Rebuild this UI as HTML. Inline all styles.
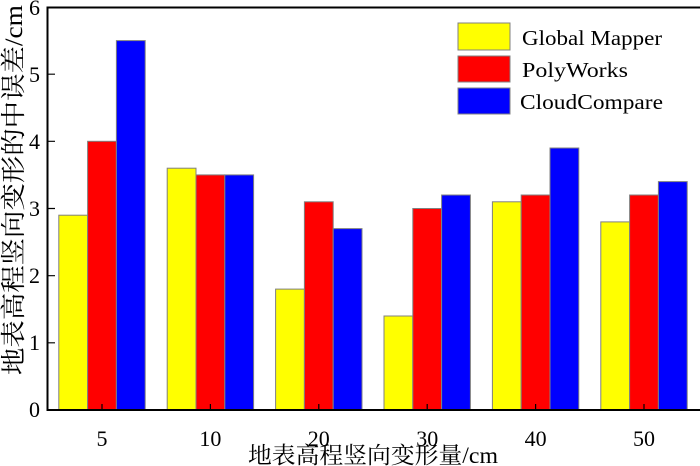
<!DOCTYPE html>
<html><head><meta charset="utf-8"><style>html,body{margin:0;padding:0;background:#fff}svg{display:block}</style></head>
<body>
<svg width="700" height="466" xmlns="http://www.w3.org/2000/svg" font-family="'Liberation Serif','Noto Serif CJK SC',serif">
<g stroke="#808080" stroke-width="1">
<rect x="58.8" y="215.2" width="28.8" height="194.8" fill="#ffff00"/>
<rect x="87.6" y="141.3" width="28.8" height="268.7" fill="#ff0000"/>
<rect x="116.4" y="40.6" width="28.8" height="369.4" fill="#0000ff"/>

<rect x="167.2" y="168.2" width="28.8" height="241.8" fill="#ffff00"/>
<rect x="196" y="174.9" width="28.8" height="235.1" fill="#ff0000"/>
<rect x="224.8" y="174.9" width="28.8" height="235.1" fill="#0000ff"/>

<rect x="275.6" y="289.1" width="28.8" height="120.9" fill="#ffff00"/>
<rect x="304.4" y="201.8" width="28.8" height="208.2" fill="#ff0000"/>
<rect x="333.2" y="228.6" width="28.8" height="181.4" fill="#0000ff"/>

<rect x="384" y="316" width="28.8" height="94" fill="#ffff00"/>
<rect x="412.8" y="208.5" width="28.8" height="201.5" fill="#ff0000"/>
<rect x="441.6" y="195" width="28.8" height="215" fill="#0000ff"/>

<rect x="492.4" y="201.8" width="28.8" height="208.2" fill="#ffff00"/>
<rect x="521.2" y="195" width="28.8" height="215" fill="#ff0000"/>
<rect x="550" y="148" width="28.8" height="262" fill="#0000ff"/>

<rect x="600.8" y="221.9" width="28.8" height="188.1" fill="#ffff00"/>
<rect x="629.6" y="195" width="28.8" height="215" fill="#ff0000"/>
<rect x="658.4" y="181.6" width="28.8" height="228.4" fill="#0000ff"/>

<rect x="458" y="23" width="52" height="27" fill="#ffff00"/>
<rect x="458" y="56" width="52" height="26" fill="#ff0000"/>
<rect x="458" y="88" width="52" height="26" fill="#0000ff"/>
</g>
<g stroke="#000" stroke-width="2" fill="none">
<path d="M700 7.5 H47.5 V410 H700"/>
</g>
<g stroke="#000" stroke-width="1.2">
<path d="M48 342.8h7M48 275.7h7M48 208.5h7M48 141.3h7M48 74.2h7"/>
<path d="M102 410v-6M210.4 410v-6M318.8 410v-6M427.2 410v-6M535.6 410v-6M644 410v-6"/>
</g>
<g font-size="22" fill="#000" text-anchor="end">
<text x="40" y="417">0</text><text x="40" y="350">1</text><text x="40" y="283">2</text>
<text x="40" y="216">3</text><text x="40" y="149">4</text><text x="40" y="82">5</text><text x="40" y="15">6</text>
</g>
<g font-size="22" fill="#000" text-anchor="middle">
<text x="102" y="446">5</text><text x="210.4" y="446">10</text><text x="318.8" y="446">20</text>
<text x="427.2" y="446">30</text><text x="535.6" y="446">40</text><text x="644" y="446">50</text>
</g>
<text x="248" y="463" font-size="23" textLength="250" lengthAdjust="spacingAndGlyphs">地表高程竖向变形量/cm</text>
<text transform="translate(22,375) rotate(-90)" font-size="25" textLength="370" lengthAdjust="spacingAndGlyphs">地表高程竖向变形的中误差/cm</text>
<g font-size="21" fill="#000">
<text x="522" y="45" textLength="140" lengthAdjust="spacingAndGlyphs">Global Mapper</text>
<text x="522" y="77" textLength="106" lengthAdjust="spacingAndGlyphs">PolyWorks</text>
<text x="520" y="109" textLength="143" lengthAdjust="spacingAndGlyphs">CloudCompare</text>
</g>
</svg>
</body></html>
